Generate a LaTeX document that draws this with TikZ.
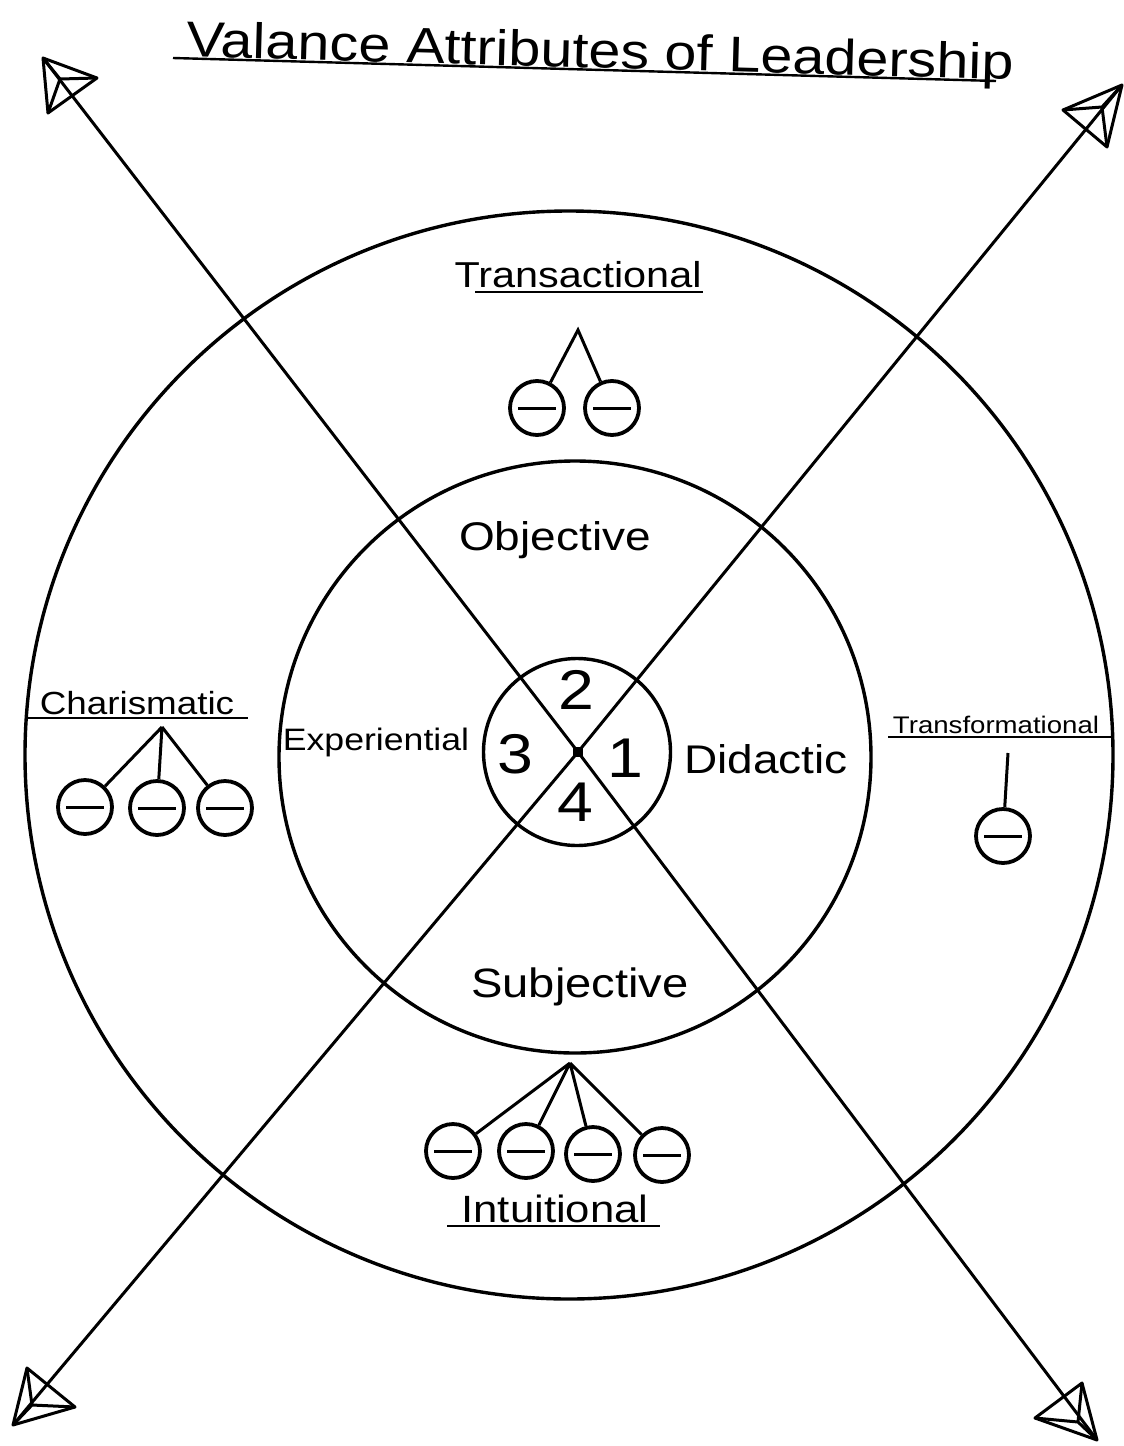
\documentclass[tikz,border=0pt]{standalone}
\usepackage{fontspec}
\setmainfont[FakeStretch=1.15]{Liberation Sans}
\begin{document}
\begin{tikzpicture}[x=1pt,y=-1pt]
\tikzset{
  lbl/.style={inner sep=0pt, anchor=base},
  ring/.style={circle, draw, line width=3.4pt, inner sep=0pt},
  axisline/.style={line width=3pt},
  tipline/.style={line width=3pt, line join=round},
  minuscirc/.style={circle, draw, line width=3.8pt, minimum size=54pt, inner sep=0pt,
    path picture={\draw[line width=3pt] ([xshift=-19pt]path picture bounding box.center) -- ([xshift=19pt]path picture bounding box.center);}},
  twig/.style={line width=3pt},
  uline/.style={line width=2.4pt}
}
\useasboundingbox[fill=white] (0,0) rectangle (1124,1446);

% rings
\node[ring, minimum size=1088pt] (outer) at (569,755) {};
\node[ring, minimum size=592pt] (inner) at (575,757) {};
\node[ring, minimum size=187pt] (core) at (577,752) {};

% axes with arrowheads
\coordinate (ctr) at (578,752);
\coordinate (tlT) at (43,58);   \coordinate (tlA) at (97,78);   \coordinate (tlB) at (48,113);   \coordinate (tlI) at (60,79);
\coordinate (trT) at (1122,85); \coordinate (trA) at (1063,110); \coordinate (trB) at (1107,147); \coordinate (trI) at (1102,107);
\coordinate (blT) at (13,1425); \coordinate (blA) at (27,1368); \coordinate (blB) at (75,1407); \coordinate (blI) at (32,1405);
\coordinate (brT) at (1097,1440); \coordinate (brA) at (1035,1418); \coordinate (brB) at (1082,1383); \coordinate (brI) at (1078,1422);

\draw[axisline] (tlT) -- (ctr) -- (brT);
\draw[axisline] (trT) -- (ctr) -- (blT);
\foreach \p in {tl,tr,bl,br}{
  \draw[tipline] (\p T) -- (\p A) -- (\p B) -- cycle;
  \draw[tipline] (\p I) -- (\p T) (\p I) -- (\p A) (\p I) -- (\p B);
}
\node[fill=black, minimum size=10pt, inner sep=0pt] (dot) at (ctr) {};

% title
\node[lbl, rotate=-1.6, font=\fontsize{50}{56}\selectfont] (title) at (600,68) {Valance Attributes of Leadership};
\coordinate (tu1) at (173,58); \coordinate (tu2) at (996,81);
\draw[uline] (tu1) -- (tu2);

% quadrant labels
\node[lbl, font=\fontsize{56}{60}\selectfont] (n2) at (576,709) {2};
\node[lbl, font=\fontsize{56}{60}\selectfont] (n3) at (515,773) {3};
\node[lbl, font=\fontsize{56}{60}\selectfont] (n1) at (625,777) {1};
\node[lbl, font=\fontsize{56}{60}\selectfont] (n4) at (575,821) {4};

\node[lbl, font=\fontsize{40}{44}\selectfont] (obj) at (555,550) {Objective};
\node[lbl, font=\fontsize{31}{36}\selectfont] (exp) at (376,750) {Experiential};
\node[lbl, font=\fontsize{40}{44}\selectfont] (did) at (766,773) {Didactic};
\node[lbl, font=\fontsize{41}{44}\selectfont] (sub) at (580,997) {Subjective};

% Transactional
\node[lbl, font=\fontsize{36}{40}\selectfont] (trans) at (578,287) {Transactional};
\coordinate (trU1) at (475,292); \coordinate (trU2) at (703,292);
\draw[uline] (trU1) -- (trU2);
\coordinate (tra) at (578,330);
\node[minuscirc] (ta1) at (537,408) {};
\node[minuscirc] (ta2) at (612,408) {};
\draw[twig] (ta1) -- (tra) -- (ta2);

% Charismatic
\node[lbl, font=\fontsize{32}{36}\selectfont] (char) at (137,714) {Charismatic};
\coordinate (chU1) at (28,718); \coordinate (chU2) at (248,718);
\draw[uline] (chU1) -- (chU2);
\coordinate (cha) at (162,727);
\node[minuscirc] (ch1) at (85,807) {};
\node[minuscirc] (ch2) at (157,808) {};
\node[minuscirc] (ch3) at (225,808) {};
\draw[twig] (cha) -- (ch1) (cha) -- (ch2) (cha) -- (ch3);

% Transformational
\node[lbl, font=\fontsize{24}{28}\selectfont] (tfm) at (996,733) {Transformational};
\coordinate (tfU1) at (888,737); \coordinate (tfU2) at (1113,737);
\draw[uline] (tfU1) -- (tfU2);
\coordinate (tfa) at (1008,753);
\node[minuscirc] (tf1) at (1003,836) {};
\draw[twig] (tfa) -- (tf1);

% Intuitional
\coordinate (ina) at (570,1063);
\node[minuscirc] (in1) at (453,1151) {};
\node[minuscirc] (in2) at (526,1151) {};
\node[minuscirc] (in3) at (593,1154) {};
\node[minuscirc] (in4) at (662,1155) {};
\draw[twig] (ina) -- (in1) (ina) -- (in2) (ina) -- (in3) (ina) -- (in4);
\node[lbl, font=\fontsize{38}{42}\selectfont] (intu) at (555,1222) {Intuitional};
\coordinate (inU1) at (447,1226); \coordinate (inU2) at (660,1226);
\draw[uline] (inU1) -- (inU2);
\end{tikzpicture}
\end{document}
